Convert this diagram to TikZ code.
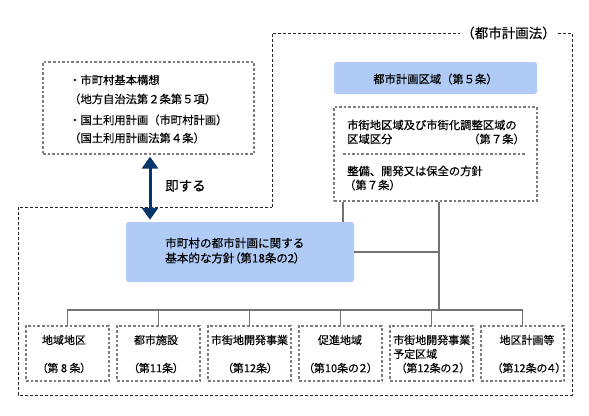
\documentclass[tikz,border=0pt]{standalone}
\usepackage{fontspec}
\setmainfont[FakeBold=0.35]{Noto Sans CJK JP}
\newfontfamily\jpp[RawFeature=+palt,FakeBold=0.35]{Noto Sans CJK JP}
\usetikzlibrary{arrows.meta}
\definecolor{lblue}{RGB}{176,204,246}
\definecolor{boxgray}{RGB}{125,125,125}
\definecolor{linegray}{RGB}{115,115,115}
\definecolor{navy}{RGB}{8,54,104}
\tikzset{
  dbox/.style={draw=boxgray, line width=1.2pt, dash pattern=on 2.6pt off 2pt, inner sep=0pt},
  bbox/.style={fill=lblue, rounded corners=2.5pt, inner sep=0pt},
  smallbox/.style={dbox, minimum width=83pt, minimum height=55pt},
  txt/.style={inner sep=0pt, font=\fontsize{11.3}{13}\selectfont},
  ptxt/.style={inner sep=0pt, font=\jpp\fontsize{11}{13}\selectfont},
  big/.style={inner sep=0pt, font=\fontsize{13.5}{15}\selectfont},
  conn/.style={draw=linegray, line width=1.5pt},
  outer/.style={draw=black!85, line width=0.8pt, dash pattern=on 3pt off 2pt},
  arr/.style={draw=navy, line width=3pt, {Triangle[width=16pt,length=12pt]}-{Triangle[width=16pt,length=12pt]}}
}
\begin{document}
\begin{tikzpicture}[x=1pt,y=-1pt]
\useasboundingbox (0,0) rectangle (589,415);
% outer region (city planning act)
\draw[outer] (272,207) -- (272,33) -- (572,33) -- (572,395) -- (18,395) -- (18,207) -- cycle;
\node[big, fill=white, inner xsep=1pt] (law) at (508.5,33) {（都市計画法）};

% top-left box
\node[dbox, minimum width=211pt, minimum height=92pt] (tl) at (148.5,108) {};
\node[txt, anchor=west] (tl1) at (69,80) {・市町村基本構想};
\node[txt, anchor=west] (tl2) at (69,99) {（地方自治法第２条第５項）};
\node[txt, anchor=west] (tl3) at (69,120) {・国土利用計画（市町村計画）};
\node[txt, anchor=west] (tl4) at (69,138) {（国土利用計画法第４条）};

% city planning area
\node[bbox, minimum width=203pt, minimum height=32pt] (area) at (435.5,78) {};
\node[txt] (areat) at (435.5,79) {都市計画区域（第５条）};

% plan box
\node[dbox, minimum width=203pt, minimum height=94pt] (plan) at (435.5,154) {};
\coordinate (sepL) at (343,154);
\coordinate (sepR) at (525,154);
\draw[dbox] (sepL) -- (sepR);
\node[txt, anchor=west] (p1) at (347,125) {市街地区域及び市街化調整区域の};
\node[txt, anchor=west] (p2) at (347,139) {区域区分};
\node[txt, anchor=east] (p3) at (525,139) {（第７条）};
\node[txt, anchor=west] (p4) at (347,171) {整備、開発又は保全の方針};
\node[txt, anchor=west] (p5) at (344,185) {（第７条）};

% municipal basic policy
\node[bbox, minimum width=228pt, minimum height=60pt] (hoshin) at (240,252) {};
\node[txt, anchor=west, font=\fontsize{11.6}{13}\selectfont] (h1) at (165,243) {市町村の都市計画に関する};
\node[txt, anchor=west, font=\jpp\fontsize{11.6}{13}\selectfont] (h2) at (165,258) {基本的な方針（第18条の2）};

% arrow
\coordinate (ax) at (150,0);
\draw[arr] ([yshift=-2pt]tl.south -| ax) -- ([yshift=2pt]hoshin.north -| ax);
\node[big, anchor=west] (soku) at (165,186) {即する};

% bottom boxes
\node[smallbox] (b1) at (67.5,353.5) {};
\node[smallbox] (b2) at (158.5,353.5) {};
\node[smallbox] (b3) at (249.5,353.5) {};
\node[smallbox] (b4) at (340.5,353.5) {};
\node[smallbox] (b5) at (431.5,353.5) {};
\node[smallbox] (b6) at (522.5,353.5) {};

\node[ptxt] (t1) at (64,340) {地域地区};
\node[ptxt] (a1) at (64,368) {（第 8 条）};
\node[ptxt] (t2) at (156,340) {都市施設};
\node[ptxt] (a2) at (156,368) {（第11条）};
\node[ptxt] (t3) at (249.5,340) {市街地開発事業};
\node[ptxt] (a3) at (250,368) {（第12条）};
\node[ptxt] (t4) at (340,340) {促進地域};
\node[ptxt] (a4) at (340.5,368) {（第10条の２）};
\node[ptxt, anchor=west] (t5) at (393,340) {市街地開発事業};
\node[ptxt, anchor=west] (t5b) at (393,354) {予定区域};
\node[ptxt] (a5) at (433,368) {（第12条の２）};
\node[ptxt] (t6) at (527,340) {地区計画等};
\node[ptxt] (a6) at (529,368) {（第12条の４）};

% connectors
\coordinate (jn) at (439,310);
\coordinate (lx) at (343,0);
\draw[conn] (plan.south -| lx) -- (hoshin.north -| lx);
\draw[conn] (plan.south -| jn) -- (jn);
\draw[conn] (hoshin.east) -- (hoshin.east -| jn);
\draw[conn] (b1.north) |- (b6.north |- jn) -- (b6.north);
\draw[conn] (b2.north) -- (b2.north |- jn);
\draw[conn] (b3.north) -- (b3.north |- jn);
\draw[conn] (b4.north) -- (b4.north |- jn);
\draw[conn] (b5.north) -- (b5.north |- jn);
\end{tikzpicture}
\end{document}
